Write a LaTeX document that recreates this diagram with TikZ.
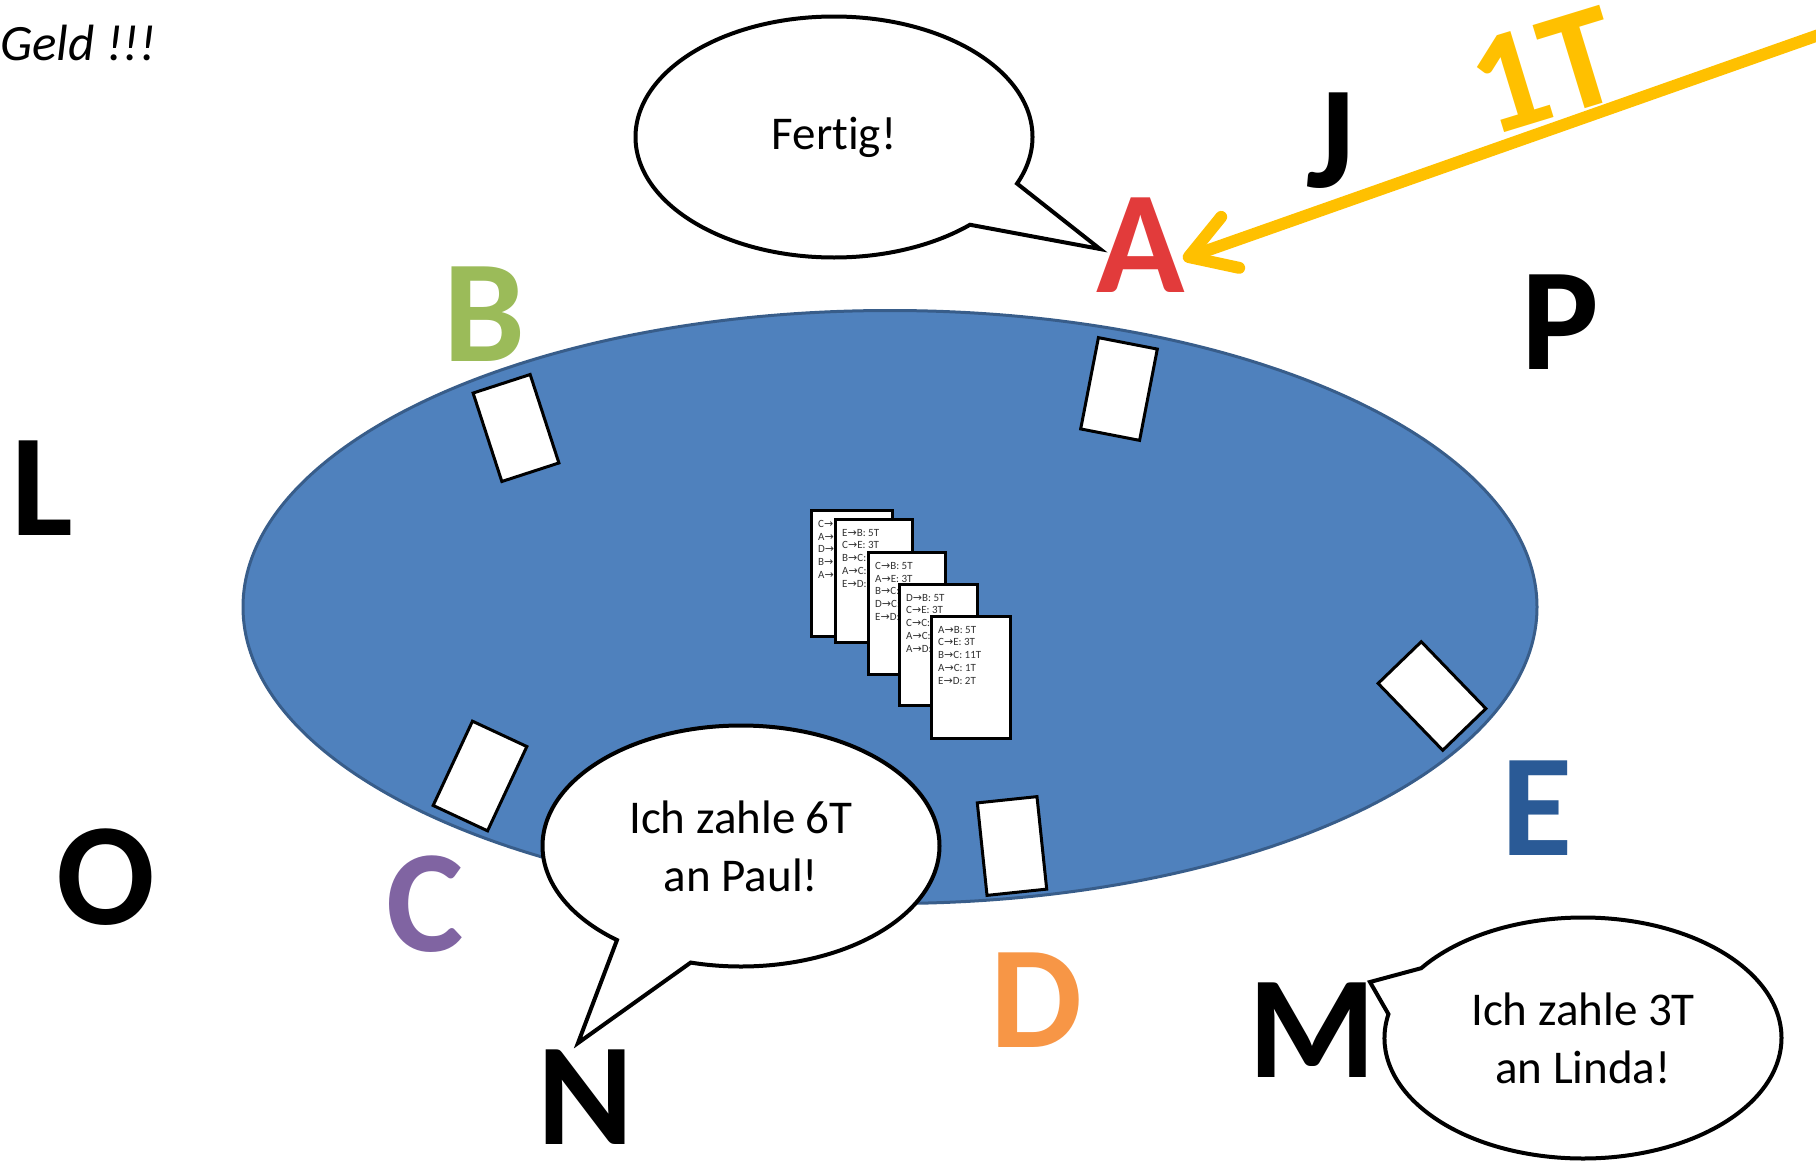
\documentclass[tikz,border=0pt]{standalone}
\usepackage{fontspec}
\setmainfont{Carlito}[Ligatures=NoCommon]
\newfontfamily\symfont{DejaVu Sans}
\usetikzlibrary{shapes.geometric,shapes.callouts,arrows.meta,calc}
\definecolor{tableblue}{HTML}{4F81BD}
\definecolor{tableedge}{HTML}{385D8A}
\definecolor{lgreen}{HTML}{9BBB59}
\definecolor{lred}{HTML}{E23B3B}
\definecolor{lpurple}{HTML}{8064A2}
\definecolor{lorange}{HTML}{F79646}
\definecolor{lblue}{HTML}{2A5A96}
\definecolor{gold}{HTML}{FFC000}
\definecolor{notegray}{HTML}{333333}
\newcommand{\sendto}{{\symfont\char"2192}}
\begin{document}
\begin{tikzpicture}[x=1pt,y=-1pt,
  letter/.style={inner sep=0pt, font=\fontsize{146}{146}\selectfont\bfseries},
  card/.style={draw=black, line width=3pt, fill=white, minimum width=60pt, minimum height=93pt, inner sep=0pt},
  sheet/.style={draw=black, line width=3pt, fill=white, anchor=north west, inner sep=0pt},
  note/.style={inner sep=0pt, anchor=north west, align=left, text=notegray, font=\fontsize{11}{12.7}\selectfont},
  bubble/.style={ellipse callout, draw=black, line width=4pt, fill=white, inner sep=0pt,
    callout pointer arc=24, align=center, font=\fontsize{47}{58}\selectfont,
    minimum width=397pt, minimum height=241pt}
]
\useasboundingbox (0,0) rectangle (1816,1162);

% table
\node[ellipse, fill=tableblue, draw=tableedge, line width=3pt, minimum width=1294pt, minimum height=593pt, inner sep=0pt] (table) at (890,607) {};

% cards in front of the players
\node[card, rotate=18]  (cardB) at (516,428) {};
\node[card, rotate=-11] (cardA) at (1119,389) {};
\node[card, rotate=44]  (cardE) at (1432,696) {};
\node[card, rotate=6]   (cardD) at (1012,846) {};
\node[card, rotate=-25] (cardC) at (480,776) {};

% pile of notes in the middle
\node[sheet, minimum width=81pt, minimum height=126pt] (p1) at (810,509) {};
\node[note] at ($(p1.north west)+(8,11)$) {C\sendto\\A\sendto\\D\sendto\\B\sendto\\A\sendto};
\node[sheet, minimum width=77pt, minimum height=123pt] (p2) at (834,518) {};
\node[note] at ($(p2.north west)+(8,11)$) {E\sendto B: 5T\\C\sendto E: 3T\\B\sendto C:\\A\sendto C:\\E\sendto D:};
\node[sheet, minimum width=77pt, minimum height=122pt] (p3) at (867,551) {};
\node[note] at ($(p3.north west)+(8,11)$) {C\sendto B: 5T\\A\sendto E: 3T\\B\sendto C:\\D\sendto C:\\E\sendto D:};
\node[sheet, minimum width=78pt, minimum height=121pt] (p4) at (898,583) {};
\node[note] at ($(p4.north west)+(8,11)$) {D\sendto B: 5T\\C\sendto E: 3T\\C\sendto C:\\A\sendto C:\\A\sendto D:};
\node[sheet, minimum width=79pt, minimum height=122pt] (p5) at (930,615) {};
\node[note] at ($(p5.north west)+(8,11)$) {A\sendto B: 5T\\C\sendto E: 3T\\B\sendto C: 11T\\A\sendto C: 1T\\E\sendto D: 2T};

% players
\node[letter, text=lgreen]  (B) at (484,314) {B};
\node[letter, text=lred]    (A) at (1141,245) {A};
\node[letter, text=black]   (J) at (1331,141) {J};
\node[letter, text=black]   (P) at (1560,322) {P};
\node[letter, text=black]   (L) at (42,488) {L};
\node[letter, text=black]   (O) at (106,877) {O};
\node[letter, text=lpurple] (C) at (425,904) {C};
\node[letter, text=black]   (N) at (586,1097) {N};
\node[letter, text=lorange] (D) at (1037,1000) {D};
\node[letter, text=black]   (M) at (1312,1030) {M};
\node[letter, text=lblue]   (E) at (1537,808) {E};

% text in the corner
\node[anchor=base west, inner sep=0pt, font=\fontsize{51}{60}\selectfont\itshape] (geld) at (0,60) {Geld !!!};

% speech bubbles
\coordinate (tipA) at (1100,249);
\coordinate (tipN) at (578,1043);
\coordinate (tipM) at (1370,982);
\node[bubble, callout absolute pointer={(tipA)}] (sayA) at (834,137) {Fertig!};
\node[bubble, callout absolute pointer={(tipN)}] (sayN) at (741,846) {Ich zahle 6T\\an Paul!};
\node[bubble, callout absolute pointer={(tipM)}] (sayM) at (1583,1038) {Ich zahle 3T\\an Linda!};

% payment from J to A
\coordinate (src) at (1830,31);
\coordinate (atip) at (1183,259);
\draw[gold, line width=12pt, -{Straight Barb[length=44pt,width=54pt,round]}] (src) -- (atip);
\node[letter, text=gold, rotate=17] (oneT) at (1545,71) {1T};
\end{tikzpicture}
\end{document}
